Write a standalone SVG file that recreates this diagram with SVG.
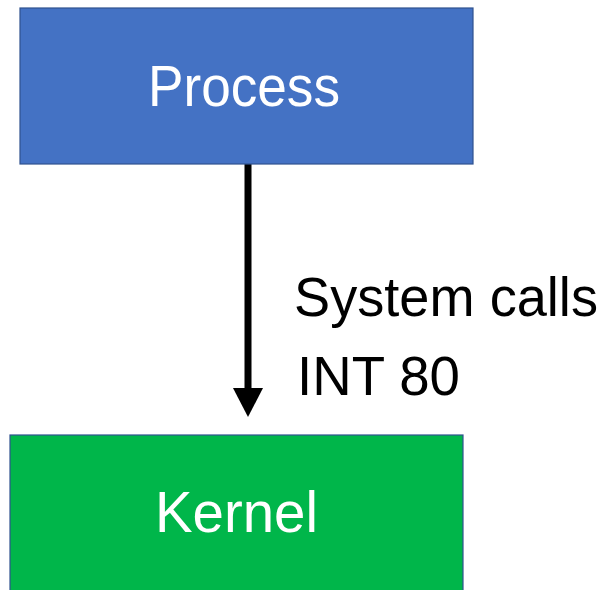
<svg xmlns="http://www.w3.org/2000/svg" width="612" height="590" viewBox="0 0 612 590">
<style>
.box{stroke:#2F528F;stroke-width:1.2}
.lbl{font-family:"Liberation Sans",Arial,sans-serif;font-size:57px}
.side{font-size:55px}
.w{fill:#ffffff}
.k{fill:#000000}
</style>
<defs>
<marker id="ah" markerWidth="30" markerHeight="30" refX="1" refY="15" orient="auto" markerUnits="userSpaceOnUse">
<path d="M0,0 L29,15 L0,30 Z" fill="#000"/>
</marker>
</defs>
<rect width="612" height="590" fill="#ffffff"/>
<g id="connectors">
<line x1="248" y1="164" x2="248" y2="389" stroke="#000" stroke-width="7" marker-end="url(#ah)"/>
<text class="lbl side k" x="294" y="316" textLength="304" lengthAdjust="spacingAndGlyphs">System calls</text>
<text class="lbl side k" x="297" y="395" textLength="163" lengthAdjust="spacingAndGlyphs">INT 80</text>
</g>
<g id="process">
<rect class="box" x="20" y="8" width="453" height="156" fill="#4472C4"/>
<text class="lbl w" x="148" y="106" textLength="192" lengthAdjust="spacingAndGlyphs">Process</text>
</g>
<g id="kernel">
<rect class="box" x="10" y="435" width="453" height="160" fill="#00B64A"/>
<text class="lbl w" x="155" y="532" textLength="163" lengthAdjust="spacingAndGlyphs">Kernel</text>
</g>
</svg>
